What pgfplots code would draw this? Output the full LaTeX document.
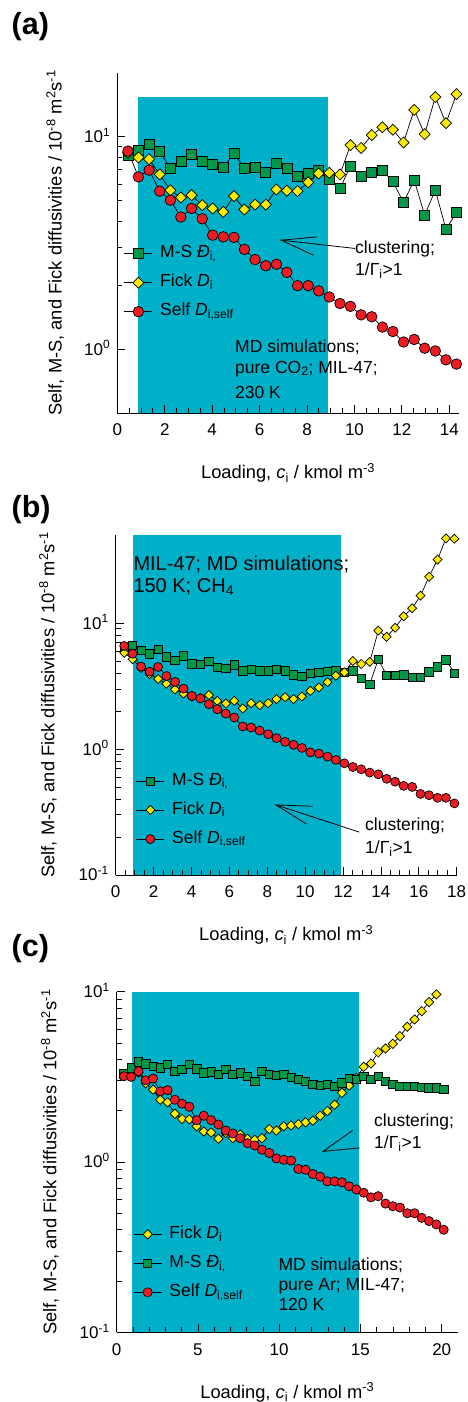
\documentclass[border=0pt]{standalone}
\usepackage{fontspec}
\setmainfont{Liberation Sans}
\usepackage{pgfplots}
\usepackage{pgfplotstable}
\pgfplotsset{compat=1.18}
\definecolor{shade}{RGB}{0,176,200}
\definecolor{msg}{RGB}{0,152,72}
\definecolor{fky}{RGB}{250,235,0}
\definecolor{sfr}{RGB}{236,28,36}

\pgfplotstableread{
x ms fk sf
0.45 8.20 8.4 8.57
0.89 8.65 8.0 6.48
1.34 9.21 7.85 6.97
1.79 8.57 6.65 5.55
2.24 7.10 5.6 5.03
2.68 7.63 5.18 4.19
3.13 8.26 5.31 4.60
3.58 7.63 4.77 4.11
4.02 7.44 4.60 3.44
4.47 7.17 4.43 3.38
4.92 8.35 5.26 3.36
5.36 7.10 4.55 2.95
5.81 7.22 4.80 2.64
6.26 6.84 4.80 2.47
6.71 7.54 5.65 2.51
7.15 7.10 5.57 2.30
7.60 6.55 5.55 1.99
8.05 6.72 6.10 1.99
8.49 6.97 6.72 1.88
8.94 6.32 6.77 1.76
9.39 5.71 6.65 1.64
9.83 7.30 9.14 1.59
10.28 6.55 8.87 1.45
10.73 6.84 10.2 1.42
11.18 6.97 11.1 1.27
11.62 6.14 10.8 1.21
12.07 4.91 9.41 1.08
12.52 6.25 13.4 1.11
12.96 4.28 10.3 1.01
13.41 5.61 15.4 0.98
13.86 3.67 11.6 0.89
14.30 4.40 15.9 0.85
}\tabA

\pgfplotstableread{
x ms fk sf
0.45 6.4 5.8 6.58
0.89 6.66 5.16 5.71
1.34 6.08 4.4 4.51
1.79 5.71 3.93 4.11
2.24 6.19 3.6 4.48
2.68 5.38 3.3 3.80
3.13 5.07 2.97 3.41
3.58 5.48 2.75 3.02
4.02 4.76 2.6 2.64
4.47 4.71 2.55 2.52
4.92 4.94 2.68 2.27
5.36 4.43 2.41 2.07
5.81 4.35 2.3 1.91
6.26 4.65 2.41 1.78
6.71 4.17 2.10 1.51
7.15 4.30 2.31 1.48
7.60 4.17 2.23 1.40
8.05 4.17 2.31 1.31
8.49 4.30 2.49 1.22
8.94 4.17 2.58 1.14
9.39 3.88 2.49 1.08
9.83 3.76 2.61 1.02
10.28 3.97 2.90 0.94
10.73 4.04 3.08 0.92
11.18 4.12 3.40 0.87
11.62 4.17 3.82 0.82
12.07 4.04 4.06 0.77
12.52 4.17 4.99 0.72
12.96 3.62 4.73 0.69
13.41 3.27 4.91 0.65
13.86 5.16 8.7 0.63
14.30 3.85 7.77 0.58
14.75 3.85 9.18 0.55
15.20 3.88 11.3 0.51
15.65 3.69 13.1 0.50
16.09 3.69 16.5 0.44
16.54 4.11 23.3 0.43
16.99 4.48 31.9 0.41
17.43 5.09 47 0.41
17.88 4.0 46.7 0.37
}\tabB

\pgfplotstableread{
x ms fk sf
0.45 3.3 3.2 3.19
0.89 3.57 3.3 3.16
1.34 3.88 3.35 3.41
1.79 3.77 2.9 3.02
2.24 3.65 2.66 3.09
2.68 3.57 2.32 2.60
3.13 3.74 2.24 2.64
3.58 3.41 1.92 2.32
4.02 3.49 1.79 2.20
4.47 3.74 1.78 2.11
4.92 3.52 1.62 1.76
5.36 3.34 1.51 1.87
5.81 3.38 1.49 1.76
6.26 3.26 1.37 1.66
6.71 3.49 1.48 1.53
7.15 3.26 1.38 1.47
7.60 3.34 1.45 1.38
8.05 3.19 1.37 1.29
8.49 2.98 1.35 1.25
8.94 3.41 1.38 1.18
9.39 3.26 1.56 1.13
9.83 3.22 1.53 1.05
10.28 3.26 1.62 1.03
10.73 3.15 1.64 1.02
11.18 3.05 1.67 0.91
11.62 2.98 1.71 0.90
12.07 2.85 1.75 0.85
12.52 2.81 1.87 0.82
12.96 2.85 1.99 0.77
13.41 2.78 2.17 0.77
13.86 2.92 2.55 0.76
14.30 3.09 2.81 0.72
14.75 3.05 3.12 0.69
15.20 3.19 3.62 0.66
15.65 3.05 3.79 0.62
16.09 3.19 4.41 0.63
16.54 2.98 4.64 0.57
16.99 2.85 4.94 0.55
17.43 2.78 5.48 0.54
17.88 2.78 6.22 0.50
18.33 2.78 6.87 0.50
18.77 2.75 7.69 0.47
19.22 2.72 8.69 0.45
19.67 2.72 9.64 0.43
20.12 2.66 nan 0.40
}\tabC

\newcommand{\txt}{\fontsize{17.5}{21}\selectfont}

\pgfplotsset{
  mypanel/.style={
    scale only axis,
    axis x line*=bottom, axis y line*=left,
    axis on top,
    tick align=inside, major tick length=8pt, minor tick length=5pt,
    every tick/.style={black, line width=0.8pt},
    axis line style={black, line width=0.9pt},
    /pgf/number format/assume math mode=true,
    tick label style={font=\fontsize{17}{20}\selectfont},
    xticklabel style={yshift=-7.5pt},
    yticklabel style={anchor=base east, yshift=-6pt, xshift=-3.5pt},
    label style={font=\fontsize{18.3}{22}\selectfont},
    xlabel={Loading, \textit{c}\textsubscript{i} / kmol m\textsuperscript{-3}},
    ylabel={Self, M-S, and Fick diffusivities / 10\textsuperscript{-8} m\textsuperscript{2}s\textsuperscript{-1}},
    xlabel style={at={(rel axis cs:0.5,-0.1765)}, anchor=center},
    legend cell align=left,
    legend style={draw=none, fill=none, inner sep=0pt, outer sep=0pt,
      font=\txt, row sep=12pt,
      nodes={inner sep=0pt, text height=12.5pt, text depth=4.5pt},
      /tikz/every odd column/.append style={column sep=7.5pt}},
    legend image code/.code={\draw[mark repeat=2,mark phase=2] plot coordinates {(0pt,0pt) (14pt,0pt) (28pt,0pt)};},
  },
  arr/.style={black, line width=0.8pt, no marks, forget plot},
}

\begin{document}
\begin{tikzpicture}
\useasboundingbox (0pt,0pt) rectangle (468pt,1402pt);

% ---------------- (a)
\begin{axis}[ymode=log, mypanel, at={(117.3pt,989pt)}, anchor=south west,
  width=341.5pt, height=340pt,
  xmin=0, xmax=14.4, ymin=0.5, ymax=20,
  xtick={0,2,...,14}, minor x tick num=3,
  ytick={1,10}, yticklabels={10\textsuperscript{0},10\textsuperscript{1}},
  ylabel style={at={(rel axis cs:-0.1818,0.5)}, anchor=center},
  legend style={at={(rel axis cs:0.0196,0.3832)}, anchor=west}]
\addplot[fill=shade, draw=none, forget plot] coordinates {(0.86,0.5) (0.86,15.4) (8.88,15.4) (8.88,0.5)} -- cycle;
\addplot[arr] coordinates {(10.03,2.98) (6.91,3.26)};
\addplot[arr] coordinates {(8.41,3.38) (6.91,3.26) (8.27,2.77)};
\addplot[black, line width=0.7pt, mark=square*, mark size=5pt, mark options={fill=msg, draw=black, line width=0.7pt}] table[x=x,y=ms] {\tabA};
\addlegendentry{M-S \textit{Đ}\textsubscript{i,}}
\addplot[black, line width=0.7pt, mark=square*, mark size=3.9pt, mark options={rotate=45, fill=fky, draw=black, line width=0.7pt}] table[x=x,y=fk] {\tabA};
\addlegendentry{Fick \textit{D}\textsubscript{i}}
\addplot[black, line width=0.7pt, mark=*, mark size=5.3pt, mark options={fill=sfr, draw=black, line width=0.7pt}] table[x=x,y=sf] {\tabA};
\addlegendentry{Self \textit{D}\textsubscript{i,self}}
\end{axis}

% ---------------- (b)
\begin{axis}[ymode=log, mypanel, at={(115.7pt,527pt)}, anchor=south west,
  width=341pt, height=340pt,
  xmin=0, xmax=18, ymin=0.1, ymax=50,
  xtick={0,2,...,18}, minor x tick num=3,
  ytick={0.1,1,10}, yticklabels={10\textsuperscript{-1},10\textsuperscript{0},10\textsuperscript{1}},
  ylabel style={at={(rel axis cs:-0.1985,0.5)}, anchor=center},
  legend style={at={(rel axis cs:0.0595,0.191)}, anchor=west}]
\addplot[fill=shade, draw=none, forget plot] coordinates {(0.9,0.1) (0.9,50) (11.9,50) (11.9,0.1)} -- cycle;
\addplot[arr] coordinates {(12.86,0.219) (8.46,0.360)};
\addplot[arr] coordinates {(10.40,0.351) (8.46,0.360) (10.05,0.255)};
\addplot[black, line width=0.7pt, mark=square*, mark size=4.2pt, mark options={fill=msg, draw=black, line width=0.7pt}] table[x=x,y=ms] {\tabB};
\addlegendentry{M-S \textit{Đ}\textsubscript{i,}}
\addplot[black, line width=0.7pt, mark=square*, mark size=3.2pt, mark options={rotate=45, fill=fky, draw=black, line width=0.7pt}] table[x=x,y=fk] {\tabB};
\addlegendentry{Fick \textit{D}\textsubscript{i}}
\addplot[black, line width=0.7pt, mark=*, mark size=4.5pt, mark options={fill=sfr, draw=black, line width=0.7pt}] table[x=x,y=sf] {\tabB};
\addlegendentry{Self \textit{D}\textsubscript{i,self}}
\end{axis}

% ---------------- (c)
\begin{axis}[ymode=log, mypanel, at={(116.7pt,69.7pt)}, anchor=south west,
  width=341.25pt, height=340.6pt,
  xmin=0, xmax=21, ymin=0.1, ymax=10,
  xtick={0,5,...,20}, minor x tick num=4,
  ytick={0.1,1,10}, yticklabels={10\textsuperscript{-1},10\textsuperscript{0},10\textsuperscript{1}},
  ylabel style={at={(rel axis cs:-0.1955,0.5)}, anchor=center},
  legend style={at={(rel axis cs:0.0486,0.2026)}, anchor=west}]
\addplot[fill=shade, draw=none, forget plot] coordinates {(0.94,0.1) (0.94,10) (14.91,10) (14.91,0.1)} -- cycle;
\addplot[arr] coordinates {(14.52,1.535) (12.71,1.155) (14.97,1.21)};
\addplot[black, line width=0.7pt, mark=square*, mark size=3.3pt, mark options={rotate=45, fill=fky, draw=black, line width=0.7pt}] table[x=x,y=fk] {\tabC};
\addlegendentry{Fick \textit{D}\textsubscript{i}}
\addplot[black, line width=0.7pt, mark=square*, mark size=4.2pt, mark options={fill=msg, draw=black, line width=0.7pt}] table[x=x,y=ms] {\tabC};
\addlegendentry{M-S \textit{Đ}\textsubscript{i,}}
\addplot[black, line width=0.7pt, mark=*, mark size=4.6pt, mark options={fill=sfr, draw=black, line width=0.7pt}] table[x=x,y=sf] {\tabC};
\addlegendentry{Self \textit{D}\textsubscript{i,self}}
\end{axis}

% ---------------- texts
\begin{scope}[every node/.style={inner sep=0pt, anchor=base west}]
\node[font=\bfseries\fontsize{30.5}{32}\selectfont] at (11.5pt,1367pt) {(a)};
\node[font=\bfseries\fontsize{30.5}{32}\selectfont] at (11.5pt,884.7pt) {(b)};
\node[font=\bfseries\fontsize{30.5}{32}\selectfont] at (11.5pt,445.3pt) {(c)};

\node[font=\txt] at (355pt,1148pt) {clustering;};
\node[font=\txt] at (355pt,1126pt) {1/Γ\textsubscript{i}>1};
\node[font=\txt] at (235pt,1049.3pt) {MD simulations;};
\node[font=\txt] at (235pt,1028.7pt) {pure CO\textsubscript{2}; MIL-47;};
\node[font=\txt] at (235pt,1003pt) {230 K};

\node[font=\fontsize{20}{24}\selectfont] at (133.3pt,831.3pt) {MIL-47; MD simulations;};
\node[font=\fontsize{20}{24}\selectfont] at (133.3pt,809.7pt) {150 K; CH\textsubscript{4}};
\node[font=\txt] at (365pt,571.3pt) {clustering;};
\node[font=\txt] at (365pt,548.7pt) {1/Γ\textsubscript{i}>1};

\node[font=\txt] at (374pt,275.3pt) {clustering;};
\node[font=\txt] at (374pt,253.7pt) {1/Γ\textsubscript{i}>1};
\node[font=\txt] at (278.3pt,131.3pt) {MD simulations;};
\node[font=\txt] at (278.3pt,111pt) {pure Ar; MIL-47;};
\node[font=\txt] at (278.3pt,91.3pt) {120 K};
\end{scope}
\end{tikzpicture}
\end{document}
